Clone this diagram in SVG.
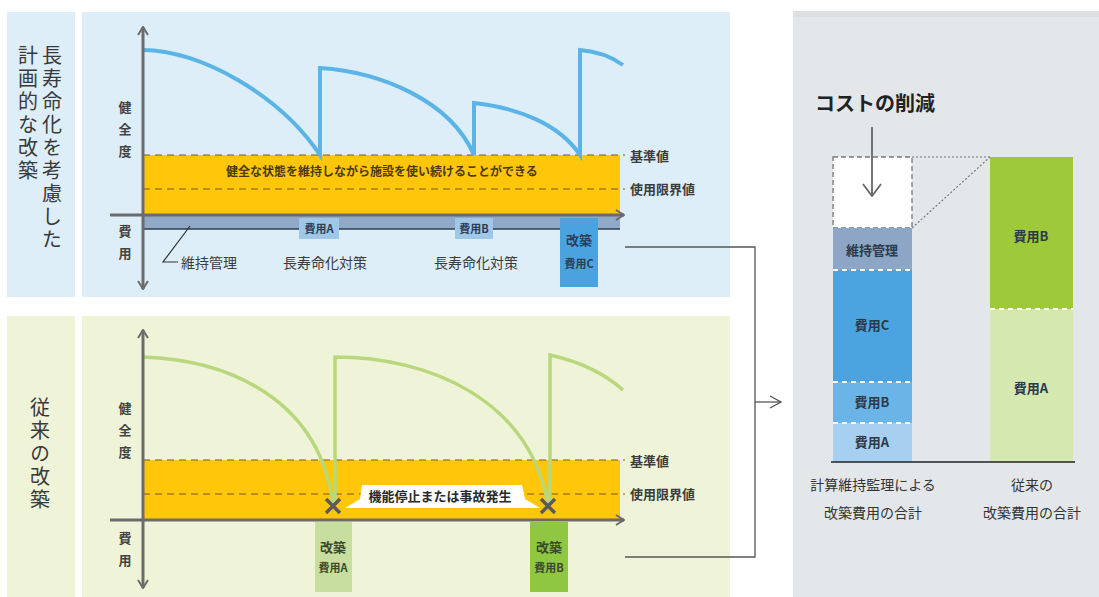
<svg xmlns="http://www.w3.org/2000/svg" width="1099" height="597" viewBox="0 0 1099 597">
<style>
text{font-family:"Noto Sans CJK JP","Noto Sans",sans-serif;fill:#333}
.strip{font-size:20px;fill:#3a3a3a;writing-mode:vertical-rl;letter-spacing:3px}
.ax{font-size:13px;font-weight:bold;fill:#444;text-anchor:middle}
.lbl{font-size:13px;font-weight:bold;fill:#3c3c3c}
.sm{font-size:11px;font-weight:bold;text-anchor:middle;fill:#2d3e55}
.axis{stroke:#6b6b6b;stroke-width:3;fill:none}
.dash{stroke:#7a5a20;stroke-width:1.2;stroke-dasharray:7 5;fill:none}
.blue{stroke:#5ab4e6;stroke-width:4;fill:none}
.green{stroke:#b9d77c;stroke-width:3.5;fill:none}
.conn{stroke:#555;stroke-width:1.3;fill:none}
.sep{stroke:#fff;stroke-width:2;stroke-dasharray:5 4}
.stk{font-size:13px;font-weight:bold;text-anchor:middle;fill:#2c3a4a}
.cap{font-size:14px;text-anchor:middle;fill:#333}
.x{stroke:#5a5a5a;stroke-width:3.5}
</style>
<defs>
<marker id="chev" viewBox="0 0 10 12" refX="9" refY="6" markerWidth="10" markerHeight="12" markerUnits="userSpaceOnUse" orient="auto-start-reverse">
<path d="M1,1 L9,6 L1,11" fill="none" stroke="#6b6b6b" stroke-width="2"/>
</marker>
<marker id="chev2" viewBox="0 0 14 14" refX="12" refY="7" markerWidth="14" markerHeight="14" markerUnits="userSpaceOnUse" orient="auto">
<path d="M1,1 L12,7 L1,13" fill="none" stroke="#555" stroke-width="1.4"/>
</marker>
<marker id="chev3" viewBox="0 0 20 14" refX="10" refY="13" markerWidth="20" markerHeight="14" markerUnits="userSpaceOnUse" orient="0">
<path d="M1,1 L10,13 L19,1" fill="none" stroke="#666" stroke-width="1.8"/>
</marker>
</defs>
<rect width="1099" height="597" fill="#fff"/>

<!-- Top panel -->
<g id="panel-top">
<rect x="7" y="12" width="68" height="285" fill="#ddeef9"/>
<rect x="82" y="12" width="648" height="285" fill="#ddeef9"/>
<text class="strip" x="52" y="45">長寿命化を考慮した</text>
<text class="strip" x="28" y="45">計画的な改築</text>
<rect x="143" y="155" width="477" height="60" fill="#ffc60a"/>
<rect x="143" y="216" width="477" height="13" fill="#91a9c8"/>
<line x1="143" y1="229" x2="620" y2="229" stroke="#2c3e50" stroke-width="1.5"/>
<line class="dash" x1="143" y1="155" x2="625" y2="155"/>
<line class="dash" x1="143" y1="189" x2="625" y2="189"/>
<text x="382" y="176" text-anchor="middle" style="font-size:12px;font-weight:bold;fill:#4a3a10">健全な状態を維持しながら施設を使い続けることができる</text>
<text class="lbl" x="630" y="161">基準値</text>
<text class="lbl" x="630" y="194">使用限界値</text>
<path class="blue" d="M143,50 C200,50 280,95 320,155 L320,68 C380,72 450,100 474,155 L474,103 C520,108 560,125 580,155 L580,50 Q605,52 623,65"/>
<line class="axis" x1="110" y1="215" x2="624" y2="215" marker-end="url(#chev)"/>
<line class="axis" x1="143" y1="27" x2="143" y2="289" marker-start="url(#chev)" marker-end="url(#chev)"/>
<text class="ax" x="125" y="112">健</text><text class="ax" x="125" y="134">全</text><text class="ax" x="125" y="156">度</text>
<text class="ax" x="125" y="236">費</text><text class="ax" x="125" y="258">用</text>
<rect x="299" y="218" width="40" height="21" fill="#9fc8e8"/>
<text class="sm" x="319" y="233">費用A</text>
<rect x="455" y="218" width="38" height="21" fill="#9fc8e8"/>
<text class="sm" x="474" y="233">費用B</text>
<rect x="560" y="218" width="38" height="69" fill="#4aa3df"/>
<text class="sm" x="579" y="245" style="font-size:13px">改築</text>
<text class="sm" x="579" y="268">費用C</text>
<polyline points="190,226 163,262 178,262" fill="none" stroke="#333" stroke-width="1.2"/>
<text class="lbl" x="181" y="268" style="font-weight:normal;font-size:14px">維持管理</text>
<text class="lbl" x="325" y="268" text-anchor="middle" style="font-weight:normal;font-size:14px">長寿命化対策</text>
<text class="lbl" x="476" y="268" text-anchor="middle" style="font-weight:normal;font-size:14px">長寿命化対策</text>
</g>

<!-- Bottom panel -->
<g id="panel-bottom">
<rect x="7" y="316" width="68" height="281" fill="#eff4d8"/>
<rect x="82" y="316" width="648" height="281" fill="#eff4d8"/>
<text class="strip" x="40" y="397">従来の改築</text>
<rect x="143" y="460" width="477" height="60" fill="#ffc60a"/>
<line class="dash" x1="143" y1="460" x2="625" y2="460"/>
<line class="dash" x1="143" y1="494" x2="625" y2="494"/>
<text class="lbl" x="630" y="466">基準値</text>
<text class="lbl" x="630" y="499">使用限界値</text>
<path class="green" d="M143,357 C230,360 320,400 333,505 M335,505 L335,357 C430,357 530,400 548,505 M550,505 L550,355 Q595,365 623,390"/>
<polygon points="362,485 522,485 525,499 540,508 345,508 360,499" fill="#fff"/>
<text x="440" y="501" text-anchor="middle" style="font-size:13px;font-weight:bold;fill:#2a2a2a">機能停止または事故発生</text>
<line class="axis" x1="110" y1="520" x2="624" y2="520" marker-end="url(#chev)"/>
<line class="axis" x1="143" y1="330" x2="143" y2="588" marker-start="url(#chev)" marker-end="url(#chev)"/>
<path class="x" d="M326,499 L340,513 M340,499 L326,513"/>
<path class="x" d="M541,499 L555,513 M555,499 L541,513"/>
<text class="ax" x="125" y="413">健</text><text class="ax" x="125" y="435">全</text><text class="ax" x="125" y="457">度</text>
<text class="ax" x="125" y="543">費</text><text class="ax" x="125" y="565">用</text>
<rect x="315" y="522" width="37" height="70" fill="#c8de9f"/>
<text class="sm" x="333" y="552" style="font-size:13px;fill:#3a4a2a">改築</text>
<text class="sm" x="333" y="572" style="fill:#3a4a2a">費用A</text>
<rect x="530" y="522" width="38" height="70" fill="#8fc743"/>
<text class="sm" x="549" y="552" style="font-size:13px;fill:#3a4a2a">改築</text>
<text class="sm" x="549" y="572" style="fill:#3a4a2a">費用B</text>
</g>

<!-- Connectors -->
<g id="connectors">
<polyline class="conn" points="625,247 755,247 755,557 625,557"/>
<line class="conn" x1="755" y1="402" x2="781" y2="402" marker-end="url(#chev2)"/>
</g>

<!-- Right panel -->
<g id="panel-right">
<rect x="793" y="11" width="306" height="586" fill="#e4e7ea"/>
<rect x="793" y="11" width="306" height="6" fill="#dedfe0"/>
<text x="815" y="111" style="font-size:20px;font-weight:bold;fill:#222">コストの削減</text>
<rect x="833" y="157" width="79" height="71" fill="#fff" stroke="#777" stroke-width="1.3" stroke-dasharray="5 3"/>
<line x1="872" y1="127" x2="872" y2="196" stroke="#666" stroke-width="1.8" marker-end="url(#chev3)"/>
<line x1="912" y1="157" x2="990" y2="157" stroke="#777" stroke-width="1.2" stroke-dasharray="2 2"/>
<line x1="912" y1="228" x2="990" y2="157" stroke="#777" stroke-width="1.2" stroke-dasharray="2 2"/>
</g>
<g id="stack-left">
<rect x="833" y="228" width="79" height="42" fill="#8da6c5"/>
<rect x="833" y="270" width="79" height="112" fill="#4ba4e0"/>
<rect x="833" y="382" width="79" height="41" fill="#6bb4e7"/>
<rect x="833" y="423" width="79" height="39" fill="#a7cff0"/>
<line class="sep" x1="833" y1="270" x2="912" y2="270"/>
<line class="sep" x1="833" y1="382" x2="912" y2="382"/>
<line class="sep" x1="833" y1="423" x2="912" y2="423"/>
<text class="stk" x="872" y="255">維持管理</text>
<text class="stk" x="872" y="330">費用C</text>
<text class="stk" x="872" y="407">費用B</text>
<text class="stk" x="872" y="447">費用A</text>
<text class="cap" x="873" y="490">計算維持監理による</text>
<text class="cap" x="873" y="518">改築費用の合計</text>
</g>
<g id="stack-right">
<rect x="990" y="157" width="83" height="152" fill="#9dc93b"/>
<rect x="990" y="309" width="83" height="153" fill="#d5e8af"/>
<line class="sep" x1="990" y1="309" x2="1073" y2="309"/>
<text class="stk" x="1031" y="241">費用B</text>
<text class="stk" x="1031" y="393">費用A</text>
<text class="cap" x="1032" y="490">従来の</text>
<text class="cap" x="1032" y="518">改築費用の合計</text>
</g>
<line x1="831" y1="462" x2="1075" y2="462" stroke="#222" stroke-width="1.6"/>
</svg>
